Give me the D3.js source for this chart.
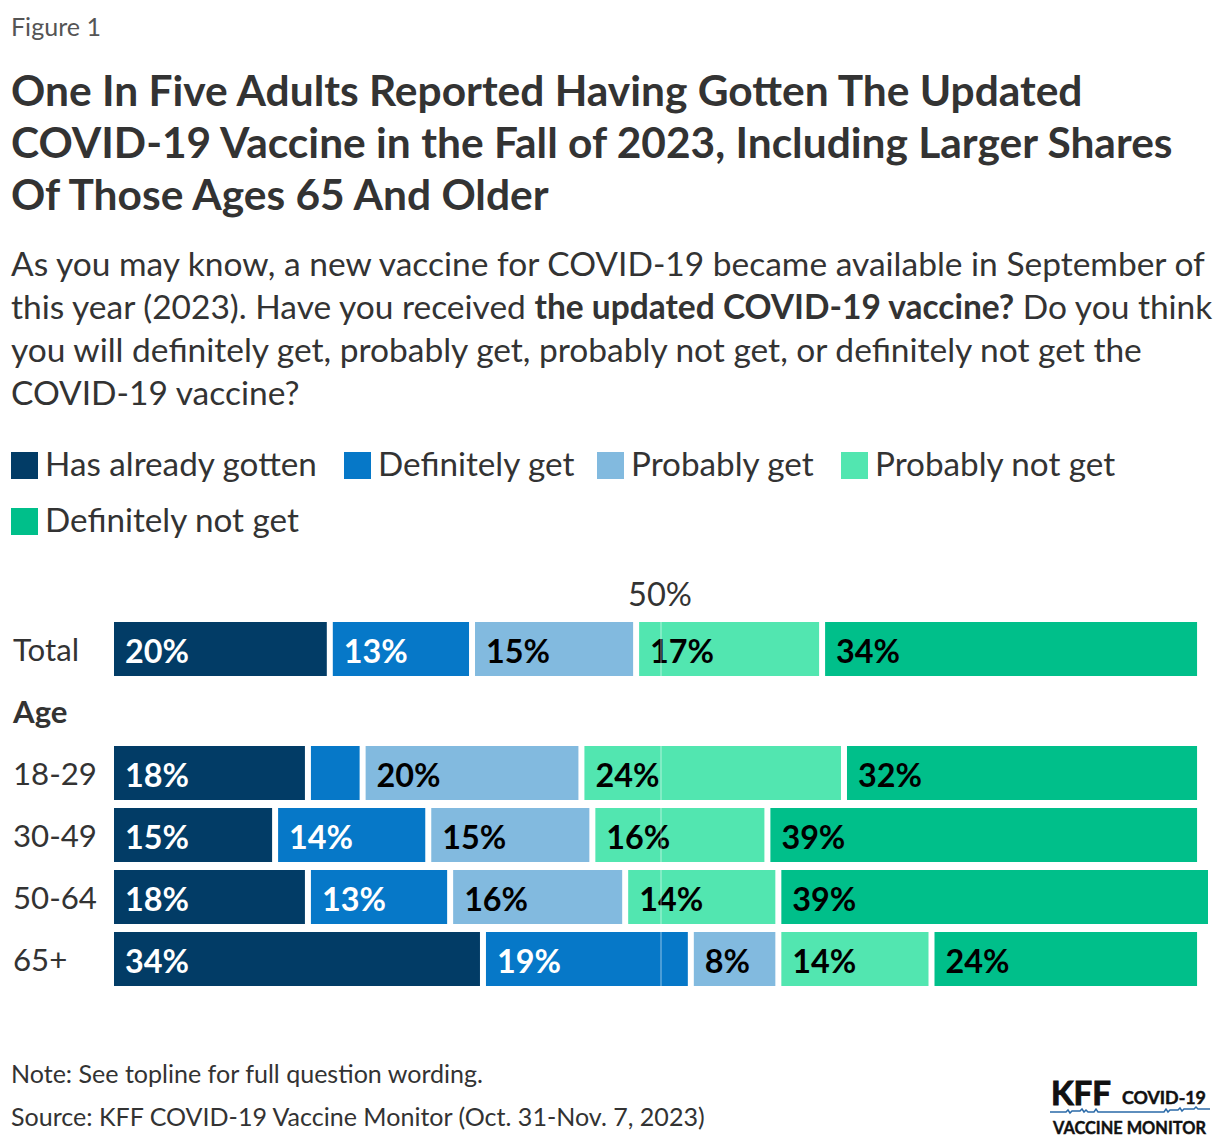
<!DOCTYPE html>
<html>
<head>
<meta charset="utf-8">
<script src="https://cdn.jsdelivr.net/npm/d3@7"></script>
<style>
  html, body { margin: 0; padding: 0; background: #fff; }
  svg { display: block; }
  text { font-family: Lato, "Noto Sans", sans-serif; }
</style>
</head>
<body>
<svg id="chart" width="1220" height="1146"></svg>
<script>
// ---------- DATA ----------
const categories = ["Total", "18-29", "30-49", "50-64", "65+"];
const rowOrder = ["Total", "Age", "18-29", "30-49", "50-64", "65+"];
const seriesNames = ["Has already gotten", "Definitely get", "Probably get", "Probably not get", "Definitely not get"];
const hasAlreadyGotten = [20, 18, 15, 18, 34];
const definitelyGet    = [13, 5, 14, 13, 19];
const probablyGet      = [15, 20, 15, 16, 8];
const probablyNotGet   = [17, 24, 16, 14, 14];
const definitelyNotGet = [34, 32, 39, 39, 24];
const seriesColors = ["#023c66", "#0678c8", "#82badf", "#52e6b0", "#00bf8a"];
const labelColors  = ["#ffffff", "#ffffff", "#000000", "#000000", "#000000"];
const referenceValue = 50;

const titleLines = [
  "One In Five Adults Reported Having Gotten The Updated",
  "COVID-19 Vaccine in the Fall of 2023, Including Larger Shares",
  "Of Those Ages 65 And Older"
];
const subtitleLines = [
  [["As you may know, a new vaccine for COVID-19 became available in September of", false]],
  [["this year (2023). Have you received ", false], ["the updated COVID-19 vaccine?", true], [" Do you think", false]],
  [["you will definitely get, probably get, probably not get, or definitely not get the", false]],
  [["COVID-19 vaccine?", false]]
];

// ---------- BUILD ----------
const seriesValues = [hasAlreadyGotten, definitelyGet, probablyGet, probablyNotGet, definitelyNotGet];
const table = categories.map((c, i) => {
  const row = { category: c };
  seriesNames.forEach((s, j) => row[s] = seriesValues[j][i]);
  return row;
});
const stacked = d3.stack().keys(seriesNames)(table);

const svg = d3.select("#chart");
const textColor = "#333333";

function fitGroup(sels, refSel, target) {
  const w = refSel.node().getComputedTextLength();
  const fs = parseFloat(refSel.attr("font-size"));
  const nfs = fs * target / w;
  sels.forEach(s => s.attr("font-size", nfs));
}

// Figure label
const fig = svg.append("text").attr("x", 11).attr("y", 36)
  .attr("font-size", 24).attr("fill", "#555").text("Figure 1");
fitGroup([fig], fig, 90);

// Title
const titleSels = titleLines.map((t, i) =>
  svg.append("text").attr("x", 11).attr("y", 106 + i * 52)
    .attr("font-size", 40).attr("font-weight", 700).attr("fill", textColor).text(t));
fitGroup(titleSels, titleSels[1], 1162);

// Subtitle
const subSels = subtitleLines.map((parts, i) => {
  const t = svg.append("text").attr("x", 11).attr("y", 276 + i * 43)
    .attr("font-size", 30).attr("fill", textColor);
  parts.forEach(([s, b]) => t.append("tspan").attr("font-weight", b ? 700 : 400).text(s));
  return t;
});
fitGroup(subSels, subSels[0], 1194);

// Legend
const legendPos = [[11, 465], [344, 465], [597, 465], [841, 465], [11, 521]];
const legendTexts = [];
seriesNames.forEach((s, i) => {
  const g = svg.append("g").attr("transform", `translate(${legendPos[i][0]},${legendPos[i][1]})`);
  g.append("rect").attr("x", 0).attr("y", -13).attr("width", 27).attr("height", 27).attr("fill", seriesColors[i]);
  legendTexts.push(g.append("text").attr("x", 34).attr("y", 11).attr("font-size", 32).attr("fill", textColor).text(s));
});
fitGroup(legendTexts, legendTexts[4], 254);

// Scales
const x = d3.scaleLinear().domain([0, 100]).range([114, 1208]);
const y = d3.scaleBand().domain(rowOrder).range([618, 990]).paddingInner(8 / 62).paddingOuter(4 / 62);
const gap = 6;

// Row labels
const rowLabelSels = rowOrder.map(r =>
  svg.append("text").attr("x", 13).attr("y", y(r) + y.bandwidth() / 2)
    .attr("dominant-baseline", "central")
    .attr("font-size", 32).attr("font-weight", r === "Age" ? 700 : 400)
    .attr("fill", textColor).text(r));
fitGroup(rowLabelSels, rowLabelSels[2], 84);

// Bars
const nSeries = seriesNames.length;
const layers = svg.append("g").selectAll("g").data(stacked).join("g")
  .attr("fill", (d, i) => seriesColors[i]);
layers.selectAll("rect").data((d, i) => d.map(p => ({ p, i }))).join("rect")
  .attr("x", d => x(d.p[0]))
  .attr("y", d => y(d.p.data.category))
  .attr("width", d => x(d.p[1]) - x(d.p[0]) - (d.i < nSeries - 1 ? gap : 0))
  .attr("height", y.bandwidth());

// Value labels
const valueLabels = [];
stacked.forEach((layer, i) => {
  layer.forEach(p => {
    const v = p[1] - p[0];
    const w = x(p[1]) - x(p[0]) - gap;
    if (w < 60) return;
    valueLabels.push(svg.append("text")
      .attr("x", x(p[0]) + 11)
      .attr("y", y(p.data.category) + y.bandwidth() / 2 + 1)
      .attr("dominant-baseline", "central")
      .attr("font-size", 31).attr("font-weight", 700)
      .attr("fill", labelColors[i]).text(v + "%"));
  });
});
fitGroup(valueLabels, valueLabels[0], 64);

// Reference line at 50%
svg.append("line")
  .attr("x1", x(referenceValue)).attr("x2", x(referenceValue))
  .attr("y1", y("Total")).attr("y2", y("65+") + y.bandwidth())
  .attr("stroke", "#ffffff").attr("stroke-opacity", 0.55).attr("stroke-width", 1);
const refLab = svg.append("text").attr("x", x(referenceValue) - 1).attr("y", 606)
  .attr("text-anchor", "middle").attr("font-size", 30).attr("fill", textColor)
  .text(referenceValue + "%");
fitGroup([refLab], refLab, 64);

// Notes
const note = svg.append("text").attr("x", 11).attr("y", 1083).attr("font-size", 24).attr("fill", textColor)
  .text("Note: See topline for full question wording.");
const src = svg.append("text").attr("x", 11).attr("y", 1126).attr("font-size", 24).attr("fill", textColor)
  .text("Source: KFF COVID-19 Vaccine Monitor (Oct. 31-Nov. 7, 2023)");
fitGroup([note, src], src, 694);

// Logo
const logo = svg.append("g");
const logoFont = "'Liberation Sans', Arial, sans-serif";
const kff = logo.append("text").attr("x", 1051).attr("y", 1105).attr("font-size", 32).attr("font-weight", 700)
  .attr("fill", "#111").attr("font-family", logoFont).attr("stroke", "#111").attr("stroke-width", 1).text("KFF");
fitGroup([kff], kff, 60);
const cov = logo.append("text").attr("x", 1122).attr("y", 1104).attr("font-size", 18).attr("font-weight", 700)
  .attr("fill", "#111").attr("font-family", logoFont).attr("stroke", "#111").attr("stroke-width", 0.5).text("COVID-19");
fitGroup([cov], cov, 84);
logo.append("path")
  .attr("d", "M1050,1112 H1066 l2,-2 l2,3 l2,-2 H1080 l2,-2 l2,3 l2,-2 l2,2 H1094 l2,-3 l2,3 H1164 l2,-3 l2,3 l2,-2 H1178 l2,-2 l2,3 l2,-2 H1194 l2,-2 l2,2 H1210")
  .attr("fill", "none").attr("stroke", "#2a6aa8").attr("stroke-width", 1.5);
const vm = logo.append("text").attr("x", 1053).attr("y", 1134).attr("font-size", 16.5).attr("font-weight", 700)
  .attr("fill", "#111").attr("font-family", logoFont).attr("stroke", "#111").attr("stroke-width", 0.4).text("VACCINE MONITOR");
fitGroup([vm], vm, 153);
</script>
</body>
</html>
